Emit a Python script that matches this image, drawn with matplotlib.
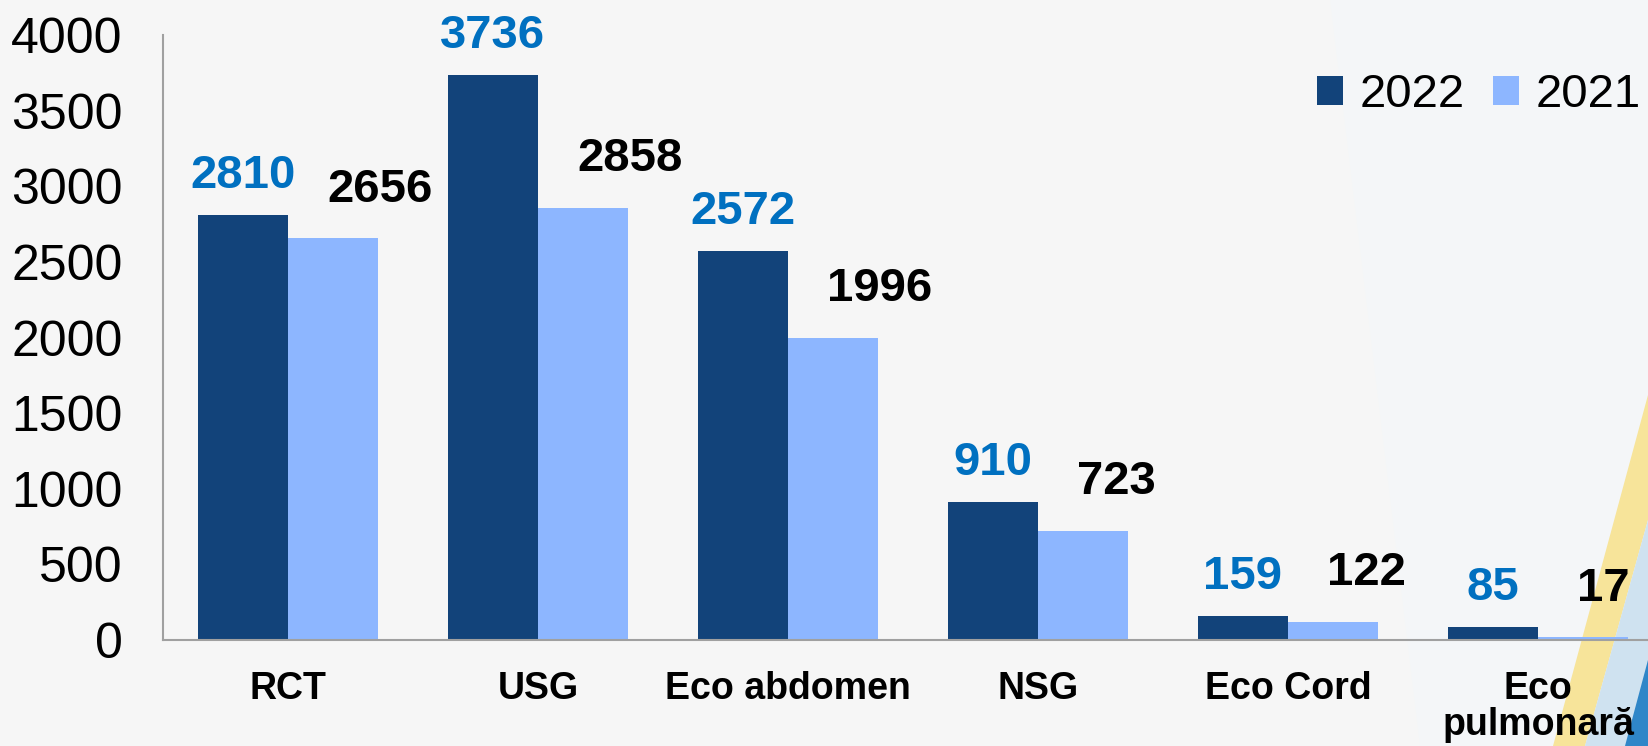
import matplotlib
matplotlib.use("Agg")
import matplotlib.pyplot as plt
from matplotlib.patches import Polygon
import numpy as np

categories = ["RCT", "USG", "Eco abdomen", "NSG", "Eco Cord", "Eco\npulmonară"]
values_2022 = [2810, 3736, 2572, 910, 159, 85]
values_2021 = [2656, 2858, 1996, 723, 122, 17]
yticks = [0, 500, 1000, 1500, 2000, 2500, 3000, 3500, 4000]

dark = "#12437A"
light = "#8DB6FF"
label_blue = "#0070C0"

plt.rcParams["font.family"] = ["Liberation Sans", "DejaVu Sans"]

W, H = 1648, 746
fig = plt.figure(figsize=(W / 100, H / 100), dpi=100)
fig.patch.set_facecolor("#F6F6F6")

# background decoration in the bottom right corner (kept behind the axes)
def fpoly(pts, color):
  p = Polygon([(x / W, 1 - y / H) for x, y in pts], closed=True,
              transform=fig.transFigure, facecolor=color, edgecolor="none", zorder=-5)
  fig.patches.append(p)

fpoly([(1330, 0), (1648, 0), (1648, 746), (1420, 746)], "#F4F6F8")
fpoly([(1553, 746), (1648, 395), (1648, 520), (1585, 746)], "#F7E49A")
fpoly([(1585, 746), (1648, 520), (1648, 746)], "#CFE2F0")
fpoly([(1625, 746), (1648, 660), (1648, 746)], "#2F86C8")

left, right = 163 / W, 1663 / W
bottom, top = 1 - 640 / H, 1 - 35 / H
ax = fig.add_axes([left, bottom, right - left, top - bottom])
ax.patch.set_alpha(0)

x = np.arange(len(categories))
w = 0.36
b1 = ax.bar(x - w / 2, values_2022, w, color=dark, label="2022", zorder=2)
b2 = ax.bar(x + w / 2, values_2021, w, color=light, label="2021", zorder=2)

for xi, v in zip(x, values_2022):
  ax.annotate(str(v), (xi - w / 2, v), xytext=(0, 28), textcoords="offset points",
              ha="center", va="center", fontsize=34, fontweight="bold",
              color=label_blue, annotation_clip=False)
for xi, v in zip(x, values_2021):
  ax.annotate(str(v), (xi + w / 2, v), xytext=(-4, 35), textcoords="offset points",
              ha="left", va="center", fontsize=34, fontweight="bold",
              color="black", annotation_clip=False)

ax.set_xlim(-0.5, len(categories) - 0.5)
ax.set_ylim(0, 4000)
ax.set_yticks(yticks)
ax.set_yticklabels([str(t) for t in yticks], fontsize=36)
ax.set_xticks(x)
ax.set_xticklabels(categories, fontsize=27, fontweight="bold", linespacing=1.0)
ax.tick_params(axis="both", length=0)
ax.tick_params(axis="y", pad=29)
ax.tick_params(axis="x", pad=22)

for s in ["top", "right"]:
  ax.spines[s].set_visible(False)
for s in ["left", "bottom"]:
  ax.spines[s].set_color("#A0A0A0")
  ax.spines[s].set_linewidth(1.5)

fig.legend(handles=[b1, b2], loc="center right", bbox_to_anchor=(1641 / W, 1 - 95 / H),
           ncol=2, frameon=False, fontsize=34, handlelength=0.55, handleheight=0.55,
           handletextpad=0.35, columnspacing=0.6, borderaxespad=0, borderpad=0)

fig.savefig("out.png", dpi=100, facecolor=fig.get_facecolor())
